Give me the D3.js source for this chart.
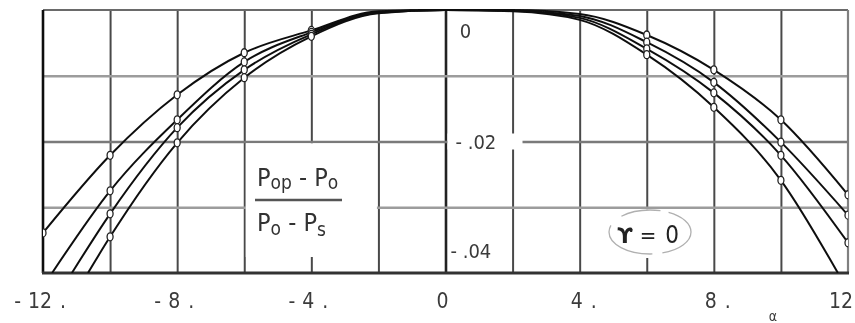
<!DOCTYPE html>
<html>
<head>
<meta charset="utf-8">
<script src="https://cdn.jsdelivr.net/npm/d3@7/dist/d3.min.js"></script>
<style>
  html, body { margin: 0; padding: 0; background: #fff; }
  svg { display: block; }
</style>
</head>
<body>
<svg id="chart" width="855" height="323"></svg>
<script>
// Measured pressure ratio (Pop - Po)/(Po - Ps) against incidence α, four taps
const alphaPts = [-12, -10, -8, -6, -4, 6, 8, 10, 12];
const seriesA = [-0.0339, -0.0221, -0.0129, -0.0065, -0.0031, -0.0038, -0.0091, -0.0167, -0.0281];
const seriesB = [null, -0.0275, -0.0167, -0.0079, -0.0034, -0.0049, -0.0110, -0.0201, -0.0312];
const seriesC = [null, -0.0310, -0.0179, -0.0091, -0.0037, -0.0059, -0.0126, -0.0221, -0.0354];
const seriesD = [null, -0.0345, -0.0202, -0.0103, -0.0040, -0.0068, -0.0148, -0.0259, null];

// Faired crest of each curve, where it runs along the zero line
const alphaCrest = [-2, 0, 2, 4];
const crestA = [-0.0002, 0, 0, -0.0006];
const crestB = [-0.0003, 0, -0.0001, -0.0009];
const crestC = [-0.0004, 0, -0.0001, -0.0012];
const crestD = [-0.0005, 0, -0.0002, -0.0015];

// α where a curve leaves the frame through the -.04 line
const exitAlpha = [[], [-11.73], [-11.14], [-10.66, 11.7]];

const xTicks = [-12, -8, -4, 0, 4, 8, 12];
const xTickSign = ["-", "-", "-", "", "", "", ""];
const xTickDigits = ["12", "8", "4", "0", "4", "8", "12"];
const xTickDot = [".", ".", ".", "", ".", ".", ""];
const yGrid = [-0.03, -0.02, -0.01];

const allSeries = [seriesA, seriesB, seriesC, seriesD];
const allCrest = [crestA, crestB, crestC, crestD];

const svg = d3.select("#chart");
const defs = svg.append("defs");
defs.append("filter").attr("id", "soft")
  .append("feGaussianBlur").attr("stdDeviation", 0.55);
defs.append("clipPath").attr("id", "plotClip")
  .append("rect").attr("x", 43).attr("y", 9).attr("width", 805).attr("height", 264);

const root = svg.append("g").attr("filter", "url(#soft)");
root.append("rect").attr("width", 855).attr("height", 323).attr("fill", "#fff");

const x = d3.scaleLinear().domain([-12, 12]).range([43, 848]);
const y = d3.scaleLinear().domain([-0.04, 0]).range([273, 10]);
const plotH = y(-0.04) - y(0);
const plotW = x(12) - x(-12);

const font = "'Liberation Sans Narrow', 'DejaVu Sans Condensed', 'Arial Narrow', sans-serif";

// vertical grid every 2 degrees
const gx = root.append("g").attr("transform", `translate(0,${y(-0.04)})`)
  .call(d3.axisBottom(x).tickValues(d3.range(-10, 11, 2)).tickSize(-plotH).tickFormat(""));
gx.select(".domain").remove();
gx.selectAll(".tick line")
  .attr("stroke", d => d === 0 ? "#222" : "#4a4a4a")
  .attr("stroke-width", d => d === 0 ? 2.6 : 2);

// horizontal grid every .01
const gy = root.append("g").attr("transform", `translate(${x(-12)},0)`)
  .call(d3.axisLeft(y).tickValues(yGrid).tickSize(-plotW).tickFormat(""));
gy.select(".domain").remove();
gy.selectAll(".tick line")
  .attr("stroke", d => d === -0.02 ? "#7a7a7a" : "#9c9c9c")
  .attr("stroke-width", 2.6);

// cleared areas behind the annotations
root.append("rect").attr("x", x(-6) + 1.5).attr("y", y(-0.02) + 1.8)
  .attr("width", x(-2) - x(-6) - 3).attr("height", 257 - y(-0.02) - 1.8).attr("fill", "#fff");
root.append("rect").attr("x", x(0) + 2).attr("y", y(-0.02) - 8)
  .attr("width", 75).attr("height", 16).attr("fill", "#fff");
root.append("rect").attr("x", x(6) - 4).attr("y", y(-0.03) + 2)
  .attr("width", 8).attr("height", 258 - y(-0.03) - 2).attr("fill", "#fff");

// frame
root.append("line").attr("x1", x(-12)).attr("x2", x(12)).attr("y1", y(0)).attr("y2", y(0))
  .attr("stroke", "#6a6a6a").attr("stroke-width", 2.2);
root.append("line").attr("x1", x(12)).attr("x2", x(12)).attr("y1", y(0)).attr("y2", y(-0.04))
  .attr("stroke", "#808080").attr("stroke-width", 2.2);
root.append("line").attr("x1", x(-12)).attr("x2", x(-12)).attr("y1", y(0)).attr("y2", y(-0.04))
  .attr("stroke", "#111").attr("stroke-width", 2.6);
root.append("line").attr("x1", x(-12) - 1).attr("x2", x(12) + 1).attr("y1", y(-0.04)).attr("y2", y(-0.04))
  .attr("stroke", "#333").attr("stroke-width", 3);

// curves
const line = d3.line().x(d => x(d[0])).y(d => y(d[1])).curve(d3.curveMonotoneX);
const curveG = root.append("g").attr("clip-path", "url(#plotClip)");
allSeries.forEach((vals, i) => {
  const pts = [];
  alphaPts.forEach((a, j) => { if (vals[j] !== null) pts.push([a, vals[j]]); });
  alphaCrest.forEach((a, j) => pts.push([a, allCrest[i][j]]));
  exitAlpha[i].forEach(a => pts.push([a, -0.04]));
  pts.sort((p, q) => p[0] - q[0]);
  curveG.append("path").datum(pts).attr("d", line)
    .attr("fill", "none").attr("stroke", "#111").attr("stroke-width", 2);
});

// data points
allSeries.forEach(vals => {
  curveG.selectAll(null)
    .data(alphaPts.map((a, j) => [a, vals[j]]).filter(d => d[1] !== null))
    .enter().append("ellipse")
    .attr("cx", d => x(d[0])).attr("cy", d => y(d[1]))
    .attr("rx", 3).attr("ry", 4)
    .attr("fill", "#fff").attr("stroke", "#222").attr("stroke-width", 1.3);
});

// α tick labels
const tl = root.append("g").attr("font-family", font).attr("font-size", 21).attr("fill", "#3a3a3a");
xTicks.forEach((t, i) => {
  const dig = tl.append("text").attr("y", 308).attr("text-anchor", "middle").text(xTickDigits[i]);
  const w = dig.node().getComputedTextLength();
  const cx = Math.min(x(t) - 3, 853 - w / 2);
  dig.attr("x", cx);
  if (xTickSign[i]) tl.append("text").attr("x", cx - w / 2 - 7).attr("y", 308).attr("text-anchor", "end").text("-");
  if (xTickDot[i]) tl.append("text").attr("x", cx + w / 2 + 8).attr("y", 308).attr("text-anchor", "start").text(".");
});
root.append("text").attr("x", 773).attr("y", 321).attr("font-family", font).attr("font-size", 14)
  .attr("fill", "#3a3a3a").attr("text-anchor", "middle").text("α");

// ordinate labels inside the frame
const yl = root.append("g").attr("font-family", font).attr("font-size", 20).attr("fill", "#3a3a3a");
yl.append("text").attr("x", x(0) + 20).attr("y", 38).attr("text-anchor", "middle").text("0");
yl.append("text").attr("x", x(0) + 10).attr("y", y(-0.02) + 7).text("- .02");
yl.append("text").attr("x", x(0) + 5).attr("y", 258).text("- .04");

// ratio label
const fr = root.append("g").attr("font-family", font).attr("fill", "#333");
const num = fr.append("text").attr("x", 257).attr("y", 186).attr("font-size", 25);
num.append("tspan").text("P");
num.append("tspan").attr("font-size", 19).attr("dy", 3).text("op");
num.append("tspan").attr("dy", -3).text(" - P");
num.append("tspan").attr("font-size", 19).attr("dy", 3).text("o");
fr.append("line").attr("x1", 255).attr("x2", 342).attr("y1", 200).attr("y2", 200)
  .attr("stroke", "#555").attr("stroke-width", 2.6);
const den = fr.append("text").attr("x", 257).attr("y", 231).attr("font-size", 25);
den.append("tspan").text("P");
den.append("tspan").attr("font-size", 19).attr("dy", 4).text("o");
den.append("tspan").attr("dy", -4).text(" - P");
den.append("tspan").attr("font-size", 19).attr("dy", 5).text("s");

// yaw condition label
const yg = root.append("g").attr("fill", "#222");
yg.append("text").attr("x", 625).attr("y", 243).attr("text-anchor", "middle")
  .attr("font-family", "'DejaVu Sans', sans-serif").attr("font-weight", "bold").attr("font-size", 21).text("ϒ");
yg.append("text").attr("x", 648).attr("y", 243).attr("text-anchor", "middle")
  .attr("font-family", font).attr("font-size", 22).text("=");
yg.append("text").attr("x", 672).attr("y", 243).attr("text-anchor", "middle")
  .attr("font-family", font).attr("font-size", 24).text("0");
root.append("ellipse").attr("cx", 650).attr("cy", 232).attr("rx", 41).attr("ry", 22)
  .attr("fill", "none").attr("stroke", "#b0b0b0").attr("stroke-width", 1.3)
  .attr("stroke-dasharray", "38 10 60 14 40 8");
</script>
</body>
</html>
